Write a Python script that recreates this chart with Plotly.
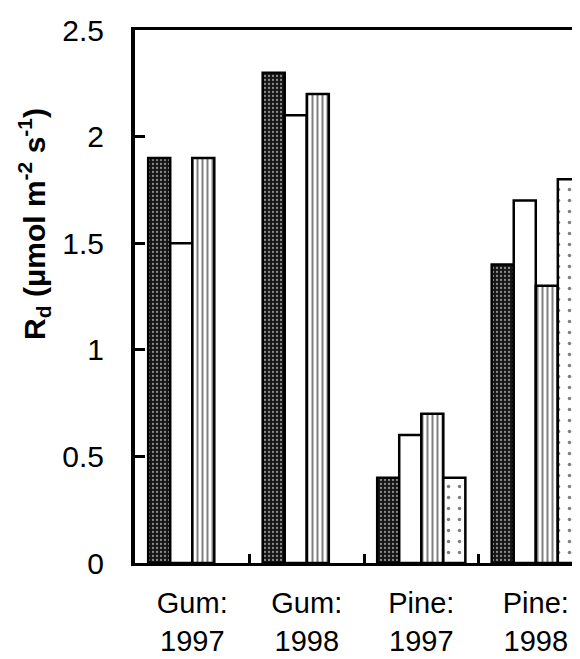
import plotly.graph_objects as go

categories = ["Gum:<br>1997", "Gum:<br>1998", "Pine:<br>1997", "Pine:<br>1998"]
series1 = [1.9, 2.3, 0.4, 1.4]   # dark stippled
series2 = [1.5, 2.1, 0.6, 1.7]   # white
series3 = [1.9, 2.2, 0.7, 1.3]   # vertical stripes
series4 = [None, None, 0.4, 1.8] # dotted
y_ticks = [0, 0.5, 1, 1.5, 2, 2.5]
y_ticktext = ["0", "0.5", "1", "1.5", "2", "2.5"]

FONT = "Arial, Liberation Sans, sans-serif"
line = dict(color="black", width=2.5)

fig = go.Figure()
fig.add_trace(go.Bar(x=categories, y=series1, marker=dict(
    color="#1a1a1a", line=line,
    pattern=dict(shape=".", bgcolor="#151515", fgcolor="#ffffff", size=4, solidity=0.25))))
fig.add_trace(go.Bar(x=categories, y=series2, marker=dict(color="white", line=line)))
fig.add_trace(go.Bar(x=categories, y=series3, marker=dict(
    color="white", line=line,
    pattern=dict(shape="|", bgcolor="white", fgcolor="black", size=5, solidity=0.4))))
fig.add_trace(go.Bar(x=categories, y=series4, marker=dict(
    color="white", line=line,
    pattern=dict(shape=".", bgcolor="white", fgcolor="black", size=11, solidity=0.08))))

fig.update_layout(
    width=580, height=659,
    margin=dict(l=127, r=0, t=22, b=104),
    paper_bgcolor="white", plot_bgcolor="white",
    barmode="group", bargap=0.23, bargroupgap=0,
    showlegend=False,
    font=dict(family=FONT, color="black"),
    xaxis=dict(
        type="category", range=[-0.5, 3.456],
        showline=True, linecolor="black", linewidth=3, mirror=True,
        ticks="inside", tickson="boundaries", ticklen=9, tickwidth=3, tickcolor="black",
        tickfont=dict(size=29, family=FONT), ticklabelstandoff=12,
        showgrid=False, zeroline=False,
    ),
    yaxis=dict(
        range=[0, 2.5], tickvals=y_ticks, ticktext=y_ticktext,
        showline=True, linecolor="black", linewidth=4,
        ticks="inside", ticklen=10, tickwidth=3, tickcolor="black",
        tickfont=dict(size=30, family=FONT), ticklabelstandoff=21,
        showgrid=False, zeroline=False,
    ),
    annotations=[dict(
        text="<b>R<sub>d</sub> (μmol m<sup>-2</sup> s<sup>-1</sup>)</b>",
        xref="paper", yref="paper", x=-0.222, y=0.637,
        xanchor="center", yanchor="middle", textangle=-90,
        showarrow=False, font=dict(size=30, family=FONT, color="black"),
    )],
)

fig.write_html("out.html")
